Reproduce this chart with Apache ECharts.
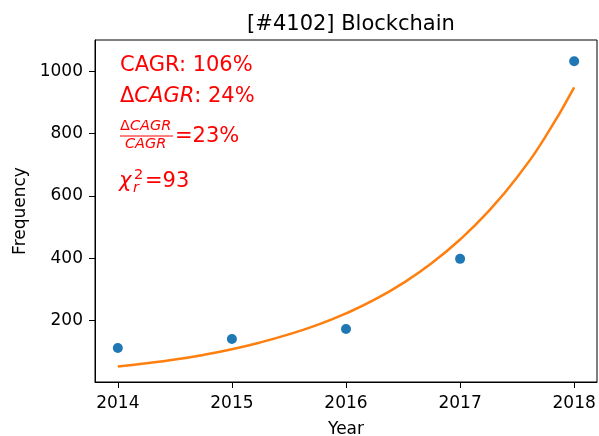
<!DOCTYPE html>
<html lang="en">
<head>
    <meta charset="UTF-8">
    <title>Blockchain</title>
    <script src="https://cdn.jsdelivr.net/npm/echarts@6/dist/echarts.min.js"></script>
    <style>
        html, body { margin: 0; padding: 0; background: #fff; }
        #main { width: 599px; height: 436px; }
    </style>
</head>
<body>
<div id="main"></div>
<script>
    // observed counts per year
    var years = [2014, 2015, 2016, 2017, 2018];
    var counts = [112, 141, 173, 398, 1032];
    // fitted curve, every quarter year
    var fitYears = [2014, 2014.25, 2014.5, 2014.75, 2015, 2015.25, 2015.5, 2015.75, 2016,
        2016.25, 2016.5, 2016.75, 2017, 2017.25, 2017.5, 2017.75, 2018];
    var fitValues = [53, 63, 75, 90, 108, 130, 156, 186, 223, 267, 320, 384, 460, 551, 660, 791, 948];
    // tick labels
    var xTicks = [2014, 2015, 2016, 2017, 2018];
    var yTicks = [200, 400, 600, 800, 1000];

    var font = 'DejaVu Sans';
    var myChart = echarts.init(document.getElementById('main'));

    var points = years.map(function (y, i) { return [y, counts[i]]; });
    var fit = fitYears.map(function (y, i) { return [y, fitValues[i]]; });

    var option = {
        animation: false,
        backgroundColor: '#fff',
        textStyle: {fontFamily: font},
        title: {
            text: '[#4102] Blockchain',
            left: 346,
            textAlign: 'center',
            top: 9,
            textStyle: {fontFamily: font, fontSize: 21, fontWeight: 'normal', color: '#000'}
        },
        grid: {
            left: 95, right: 2, top: 40, bottom: 54,
            outerBoundsMode: 'none',
            containLabel: false,
            show: true, borderColor: '#000', borderWidth: 1, backgroundColor: 'transparent'
        },
        xAxis: {
            type: 'value',
            min: 2013.8,
            max: 2018.2,
            name: 'Year',
            nameLocation: 'middle',
            nameGap: 39,
            nameTextStyle: {fontFamily: font, fontSize: 17, color: '#000'},
            axisLine: {show: true, lineStyle: {color: '#000', width: 1}},
            axisTick: {show: true, length: 6, customValues: xTicks, lineStyle: {color: '#000'}},
            axisLabel: {customValues: xTicks, margin: 13, fontFamily: font, fontSize: 17, color: '#000',
                formatter: function (v) { return String(v); }},
            splitLine: {show: false}
        },
        yAxis: {
            type: 'value',
            min: 3,
            max: 1100,
            name: 'Frequency',
            nameLocation: 'middle',
            nameGap: 61,
            nameTextStyle: {fontFamily: font, fontSize: 17, color: '#000'},
            axisLine: {show: true, lineStyle: {color: '#000', width: 1}},
            axisTick: {show: true, length: 6, customValues: yTicks, lineStyle: {color: '#000'}},
            axisLabel: {customValues: yTicks, margin: 12, fontFamily: font, fontSize: 17, color: '#000',
                formatter: function (v) { return String(v); }},
            splitLine: {show: false}
        },
        series: [
            {
                name: 'data',
                type: 'scatter',
                data: points,
                symbolSize: 10,
                itemStyle: {color: '#1f77b4', opacity: 1},
                z: 3
            },
            {
                name: 'fit',
                type: 'line',
                data: fit,
                smooth: true,
                showSymbol: false,
                lineStyle: {color: '#ff7f0e', width: 2.5},
                z: 2
            }
        ],
        graphic: [
            {type: 'text', left: 120, top: 55, style: {text: 'CAGR: 106%', fill: 'red', font: '21px DejaVu Sans'}},
            {type: 'text', left: 120, top: 86, style: {
                text: '{n|Δ}{i|CAGR}{n|: 24%}', fill: 'red',
                rich: {
                    n: {fill: 'red', fontFamily: font, fontSize: 21},
                    i: {fill: 'red', fontFamily: font, fontSize: 21, fontStyle: 'italic'}
                }
            }},
            // fraction
            {type: 'text', left: 120, top: 119, style: {
                text: '{n|Δ}{i|CAGR}', fill: 'red',
                rich: {
                    n: {fill: 'red', fontFamily: font, fontSize: 14.5},
                    i: {fill: 'red', fontFamily: font, fontSize: 14.5, fontStyle: 'italic'}
                }
            }},
            {type: 'line', shape: {x1: 120, y1: 136, x2: 173, y2: 136}, style: {stroke: 'red', lineWidth: 1}},
            {type: 'text', left: 125, top: 137, style: {
                text: 'CAGR', fill: 'red', font: 'italic 14.5px DejaVu Sans'
            }},
            {type: 'text', left: 175, top: 126, style: {text: '=23%', fill: 'red', font: '21px DejaVu Sans'}},
            // chi squared
            {type: 'text', left: 119, top: 171, style: {text: 'χ', fill: 'red', font: 'italic 21px DejaVu Sans'}},
            {type: 'text', left: 134, top: 168, style: {text: '2', fill: 'red', font: '14.5px DejaVu Sans'}},
            {type: 'text', left: 133, top: 181, style: {text: 'r', fill: 'red', font: 'italic 14.5px DejaVu Sans'}},
            {type: 'text', left: 145, top: 171, style: {text: '=93', fill: 'red', font: '21px DejaVu Sans'}}
        ]
    };
    myChart.setOption(option);
</script>
</body>
</html>
